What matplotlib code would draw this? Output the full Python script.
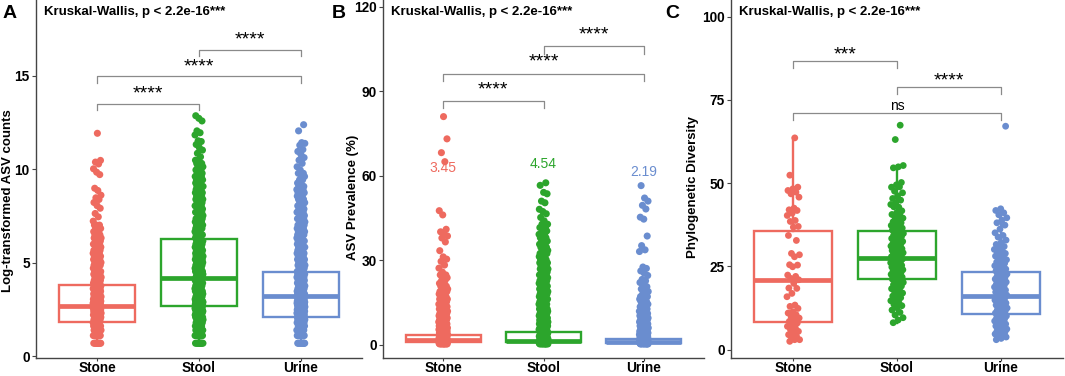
import matplotlib.pyplot as plt
import numpy as np

plt.rcParams['font.family'] = ['Liberation Sans', 'DejaVu Sans']

groups = ['Stone', 'Stool', 'Urine']
colors = ['#EE6A5F', '#2CA52C', '#6A8DCF']

# ---------------- Panel A: log-transformed ASV counts ----------------
# dense part of each cloud: value levels and how many points sit on each level
a_levels = [0.69, 1.10, 1.39, 1.61, 1.79, 1.95, 2.08, 2.20, 2.30, 2.40,
            2.48, 2.56, 2.64, 2.71, 2.77, 2.83, 2.89, 2.94, 3.04, 3.18,
            3.33, 3.47, 3.61, 3.76, 3.91, 4.05, 4.22, 4.38, 4.53, 4.70,
            4.86, 5.01, 5.17, 5.34, 5.50, 5.66, 5.83, 5.99, 6.16, 6.32,
            6.49, 6.66, 6.83, 7.01, 7.18, 7.35, 7.52, 7.70, 7.87, 8.04,
            8.21, 8.39, 8.56, 8.74, 8.91, 9.08, 9.26, 9.43, 9.61, 9.78,
            9.96, 10.13, 10.31, 10.48, 10.66]
a_counts_stone = [9, 8, 7, 6, 6, 5, 5, 5, 5, 5,
                  5, 5, 5, 5, 5, 5, 5, 5, 5, 5,
                  5, 5, 5, 5, 5, 5, 5, 5, 4, 4,
                  4, 4, 4, 4, 4, 4, 4, 4, 4, 4,
                  3, 3, 3, 3, 0, 0, 0, 0, 0, 0,
                  0, 0, 0, 0, 0, 0, 0, 0, 0, 0,
                  0, 0, 0, 0, 0]
a_counts_stool = [9, 8, 7, 6, 6, 5, 5, 5, 5, 5,
                  5, 5, 5, 5, 5, 5, 5, 5, 5, 5,
                  5, 5, 5, 5, 5, 5, 5, 5, 5, 5,
                  5, 5, 5, 5, 5, 5, 5, 5, 4, 4,
                  4, 4, 4, 4, 4, 4, 4, 4, 4, 4,
                  4, 4, 4, 4, 4, 4, 4, 3, 3, 3,
                  3, 3, 2, 2, 1]
a_counts_urine = [9, 8, 7, 6, 6, 5, 5, 5, 5, 5,
                  5, 5, 5, 5, 5, 5, 5, 5, 5, 5,
                  5, 5, 5, 5, 5, 5, 5, 5, 4, 4,
                  4, 4, 4, 4, 4, 4, 4, 4, 4, 4,
                  4, 4, 4, 4, 4, 4, 4, 4, 3, 3,
                  3, 3, 3, 3, 3, 3, 2, 2, 2, 2,
                  1, 1, 1, 1, 0]
a_extra_stone = [7.22, 7.45, 7.63, 7.91, 8.05, 8.22, 8.38, 8.47, 8.61, 8.86,
                 8.98, 9.71, 9.84, 10.02, 10.28, 10.38, 10.47, 11.92]
a_extra_stool = [10.85, 11.02, 11.15, 11.32, 11.48, 11.52, 11.83, 11.95, 12.05,
                 12.58, 12.72, 12.86]
a_extra_urine = [10.62, 10.78, 10.95, 11.05, 11.28, 11.38, 11.42, 12.05, 12.38]
# box statistics: q1, median, q3, lower whisker, upper whisker
a_q1 = [1.82, 2.66, 2.10]
a_med = [2.66, 4.20, 3.19]
a_q3 = [3.81, 6.24, 4.48]
a_wlo = [0.69, 0.69, 0.69]
a_whi = [6.80, 11.50, 8.30]

# ---------------- Panel B: ASV prevalence (%) ----------------
b_levels = [0.3, 0.6, 0.9, 1.2, 1.6, 2.0, 2.5, 3.0, 3.6, 4.2,
            4.8, 5.4, 6.0, 6.7, 7.4, 8.1, 8.8, 9.5, 10.3, 11.1,
            11.9, 12.7, 13.5, 14.4, 15.3, 16.2, 17.1, 18.0, 18.9, 19.8,
            20.8, 21.8, 22.8, 23.8, 24.8, 25.8, 26.9, 28.0, 29.1, 30.2,
            31.3, 32.4, 33.5, 34.6, 35.7, 36.8, 38.0, 39.2, 40.4, 41.6,
            42.8, 44.0, 45.2]
b_counts_stone = [9, 8, 7, 6, 6, 6, 5, 5, 5, 5,
                  5, 5, 5, 5, 5, 4, 4, 4, 4, 4,
                  4, 4, 4, 4, 4, 4, 4, 3, 3, 3,
                  3, 2, 2, 2, 2, 1, 0, 0, 0, 0,
                  0, 0, 0, 0, 0, 0, 0, 0, 0, 0,
                  0, 0, 0]
b_counts_stool = [9, 8, 7, 6, 6, 6, 5, 5, 5, 5,
                  5, 5, 5, 5, 5, 5, 5, 5, 5, 5,
                  5, 4, 4, 4, 4, 4, 4, 4, 4, 4,
                  4, 4, 4, 4, 4, 4, 4, 4, 4, 4,
                  3, 3, 3, 3, 3, 3, 3, 3, 2, 2,
                  2, 1, 1]
b_counts_urine = [9, 8, 7, 6, 6, 6, 5, 5, 5, 5,
                  5, 5, 4, 4, 4, 4, 4, 4, 4, 4,
                  4, 3, 3, 3, 3, 3, 3, 2, 2, 1,
                  0, 0, 0, 0, 0, 0, 0, 0, 0, 0,
                  0, 0, 0, 0, 0, 0, 0, 0, 0, 0,
                  0, 0, 0]
b_extra_stone = [27.2, 28.3, 29.6, 30.4, 31.2, 33.4, 36.5, 37.9, 38.6, 39.5,
                 40.1, 41.0, 46.1, 47.6, 65.0, 68.2, 73.1, 81.0]
b_extra_stool = [46.5, 47.3, 48.1, 50.4, 51.0, 53.6, 54.1, 56.6, 57.5]
b_extra_urine = [20.6, 21.4, 22.1, 22.7, 23.2, 24.6, 25.4, 26.2, 27.1, 27.6,
                 33.1, 33.7, 35.2, 38.6, 44.6, 45.3, 48.2, 49.5, 51.0, 52.1, 56.5]
b_q1 = [1.0, 0.9, 0.6]
b_med = [1.7, 1.3, 1.0]
b_q3 = [3.4, 4.5, 1.9]
b_wlo = [0.3, 0.3, 0.3]
b_whi = [7.0, 10.0, 3.8]
b_means = [3.45, 4.54, 2.19]

# ---------------- Panel C: phylogenetic diversity ----------------
c_stone = [63.6, 52.4, 48.8, 48.3, 47.8, 47.3, 46.8, 45.8, 42.5, 42.0,
           41.8, 41.0, 40.3, 38.8, 38.5, 37.0, 36.8, 34.3, 32.8, 28.9,
           28.5, 27.9, 25.5, 25.4, 24.9, 22.4, 22.0, 21.4, 21.0, 19.9,
           18.5, 18.4, 16.9, 15.9, 13.4, 13.0, 12.4, 11.4, 11.0, 10.5,
           9.9, 9.5, 9.0, 8.5, 8.0, 7.5, 7.0, 6.5, 6.0, 5.5,
           5.0, 4.5, 4.0, 3.5, 3.0, 3.0, 2.5]
c_stool = [67.4, 63.1, 55.3, 54.9, 54.6, 50.2, 49.5, 48.8, 48.9, 47.6,
           47.1, 46.2, 45.4, 44.9, 44.1, 43.6, 42.8, 42.9, 41.7, 41.2,
           40.6, 40.3, 39.8, 39.5, 38.7, 38.4, 38.1, 37.6, 37.3, 37.2,
           36.8, 36.5, 36.1, 35.9, 35.6, 35.2, 34.9, 34.7, 34.3, 34.0,
           33.6, 33.4, 33.1, 32.8, 32.5, 32.2, 31.9, 31.7, 31.4, 31.1,
           30.8, 30.6, 30.3, 30.1, 29.8, 29.6, 29.3, 29.1, 28.8, 28.6,
           28.4, 28.1, 27.9, 27.7, 27.4, 27.2, 27.0, 26.8, 26.5, 26.3,
           26.1, 25.8, 25.6, 25.3, 25.1, 24.8, 24.5, 24.3, 24.0, 23.7,
           23.5, 23.2, 22.9, 22.6, 22.4, 22.1, 21.8, 21.5, 21.2, 20.9,
           20.6, 20.2, 19.8, 19.5, 19.1, 18.7, 18.3, 17.9, 17.4, 17.0,
           16.5, 16.1, 15.6, 15.2, 14.7, 14.1, 13.6, 13.2, 12.6, 11.9,
           11.2, 10.4, 9.6, 8.9, 8.1]
c_urine = [67.1, 42.3, 41.8, 41.1, 40.5, 39.6, 38.9, 38.1, 37.4, 36.2,
           35.1, 34.3, 33.8, 32.9, 32.2, 31.6, 31.0, 30.5, 30.1, 29.7,
           29.3, 28.9, 28.5, 28.1, 27.8, 27.4, 27.0, 26.6, 26.3, 25.9,
           25.6, 25.2, 24.9, 24.5, 24.2, 23.9, 23.6, 23.3, 23.0, 22.7,
           22.4, 22.1, 21.8, 21.5, 21.2, 20.9, 20.6, 20.3, 20.0, 19.7,
           19.4, 19.1, 18.8, 18.5, 18.2, 17.9, 17.6, 17.3, 17.0, 16.7,
           16.4, 16.1, 15.8, 15.5, 15.2, 14.9, 14.6, 14.3, 14.0, 13.7,
           13.4, 13.1, 12.8, 12.5, 12.2, 11.9, 11.6, 11.3, 11.0, 10.7,
           10.4, 10.1, 9.8, 9.5, 9.2, 8.9, 8.6, 8.3, 8.0, 7.7,
           7.4, 7.1, 6.8, 6.5, 6.2, 5.9, 5.6, 5.3, 5.0, 4.7,
           4.4, 4.1, 3.8, 3.4, 3.0]
c_q1 = [8.3, 21.1, 10.7]
c_med = [20.9, 27.4, 16.1]
c_q3 = [35.6, 35.6, 23.2]
c_wlo = [2.5, 8.1, 3.0]
c_whi = [63.6, 55.3, 42.3]


def spread(n, w, shift):
    # deterministic horizontal jitter (golden-ratio sequence)
    k = np.arange(1, n + 1)
    return ((k * 0.6180339887 + shift) % 1.0 - 0.5) * 2 * w


def draw_panel(ax, values, q1, med, q3, wlo, whi, jw, size):
    stats = []
    for i in range(3):
        stats.append(dict(q1=q1[i], med=med[i], q3=q3[i],
                          whislo=wlo[i], whishi=whi[i], fliers=[]))
    bp = ax.bxp(stats, positions=[0, 1, 2], widths=0.75, showcaps=False,
                showfliers=False, patch_artist=True, manage_ticks=False)
    for i, c in enumerate(colors):
        bp['boxes'][i].set(facecolor='white', edgecolor=c, linewidth=1.7)
        bp['medians'][i].set(color=c, linewidth=3.4, solid_capstyle='butt')
        for w in bp['whiskers'][2 * i:2 * i + 2]:
            w.set(color=c, linewidth=1.7)
    for i, c in enumerate(colors):
        y = np.asarray(values[i], dtype=float)
        x = i + spread(len(y), jw, 0.13 * i)
        ax.scatter(x, y, s=size, color=c, edgecolors='none', zorder=3)

    ax.set_xlim(-0.6, 2.6)
    ax.set_xticks([0, 1, 2])
    ax.set_xticklabels(groups, fontsize=9.8, fontweight='bold')
    for sp in ['top', 'right']:
        ax.spines[sp].set_visible(False)
    for sp in ['left', 'bottom']:
        ax.spines[sp].set_color('#444444')
        ax.spines[sp].set_linewidth(1.0)
    ax.tick_params(axis='both', length=3, width=0.8, color='#444444', pad=1.5)
    ax.tick_params(axis='x', length=2.5, pad=0)
    for lab in ax.get_yticklabels():
        lab.set_fontweight('bold')
        lab.set_fontsize(9.8)
    ax.text(0.025, 0.967, 'Kruskal-Wallis, p < 2.2e-16***', transform=ax.transAxes,
            fontsize=9.5, fontweight='bold', ha='left', va='center')


def brackets(ax, items):
    for x1, x2, yl, yt, label, ly in items:
        ax.plot([x1, x1, x2, x2], [yt, yl, yl, yt], color='#8a8a8a', lw=0.9, zorder=4)
        if label == 'ns':
            ax.text((x1 + x2) / 2, ly, label, ha='center', va='center', fontsize=10)
        else:
            ax.text((x1 + x2) / 2, ly, label, ha='center', va='center', fontsize=14)


fig = plt.figure(figsize=(10.65, 3.76), dpi=100)
W, H = 1065.0, 376.0
bottom = 18 / H
height = 358 / H
axA = fig.add_axes([36 / W, bottom, 326 / W, height])
axB = fig.add_axes([383 / W, bottom, 321 / W, height])
axC = fig.add_axes([731 / W, bottom, 332 / W, height])

# Panel A
vals_a = [list(np.repeat(a_levels, a_counts_stone)) + a_extra_stone,
          list(np.repeat(a_levels, a_counts_stool)) + a_extra_stool,
          list(np.repeat(a_levels, a_counts_urine)) + a_extra_urine]
axA.set_ylim(-0.1, 19.05)
axA.set_yticks([0, 5, 10, 15])
draw_panel(axA, vals_a, a_q1, a_med, a_q3, a_wlo, a_whi, 0.04, 26)
brackets(axA, [(0, 1, 13.5, 13.15, '****', 14.0),
               (0, 2, 15.0, 14.6, '****', 15.45),
               (1, 2, 16.4, 16.05, '****', 16.9)])
axA.text(-0.086, 0.44, 'Log-transformed ASV counts', transform=axA.transAxes,
         rotation=90, ha='center', va='center', fontsize=9.5, fontweight='bold')

# Panel B
vals_b = [list(np.repeat(b_levels, b_counts_stone)) + b_extra_stone,
          list(np.repeat(b_levels, b_counts_stool)) + b_extra_stool,
          list(np.repeat(b_levels, b_counts_urine)) + b_extra_urine]
axB.set_ylim(-4.7, 122.4)
axB.set_yticks([0, 30, 60, 90, 120])
draw_panel(axB, vals_b, b_q1, b_med, b_q3, b_wlo, b_whi, 0.045, 26)
brackets(axB, [(0, 1, 86.5, 83.9, '****', 90.5),
               (0, 2, 96.2, 93.7, '****', 100.3),
               (1, 2, 105.9, 103.4, '****', 110.1)])
for i, (m, ly) in enumerate(zip(b_means, [62.8, 64.2, 61.4])):
    axB.text(i, ly, f'{m:.2f}', color=colors[i], ha='center', va='center', fontsize=10)
axB.text(-0.093, 0.45, 'ASV Prevalence (%)', transform=axB.transAxes,
         rotation=90, ha='center', va='center', fontsize=9.5, fontweight='bold')

# Panel C
axC.set_ylim(-2.5, 105)
axC.set_yticks([0, 25, 50, 75, 100])
draw_panel(axC, [c_stone, c_stool, c_urine], c_q1, c_med, c_q3, c_wlo, c_whi, 0.062, 24)
brackets(axC, [(0, 1, 86.6, 84.6, '***', 88.5),
               (1, 2, 78.8, 76.8, '****', 80.8),
               (0, 2, 71.0, 69.0, 'ns', 73.3)])
axC.text(-0.114, 0.478, 'Phylogenetic Diversity', transform=axC.transAxes,
         rotation=90, ha='center', va='center', fontsize=9.5, fontweight='bold')

for lab, xp in zip(['A', 'B', 'C'], [3, 332, 665]):
    fig.text(xp / W, 1 - 13 / H, lab, fontsize=14, fontweight='bold',
             ha='left', va='center')

fig.savefig('out.png', dpi=100)
